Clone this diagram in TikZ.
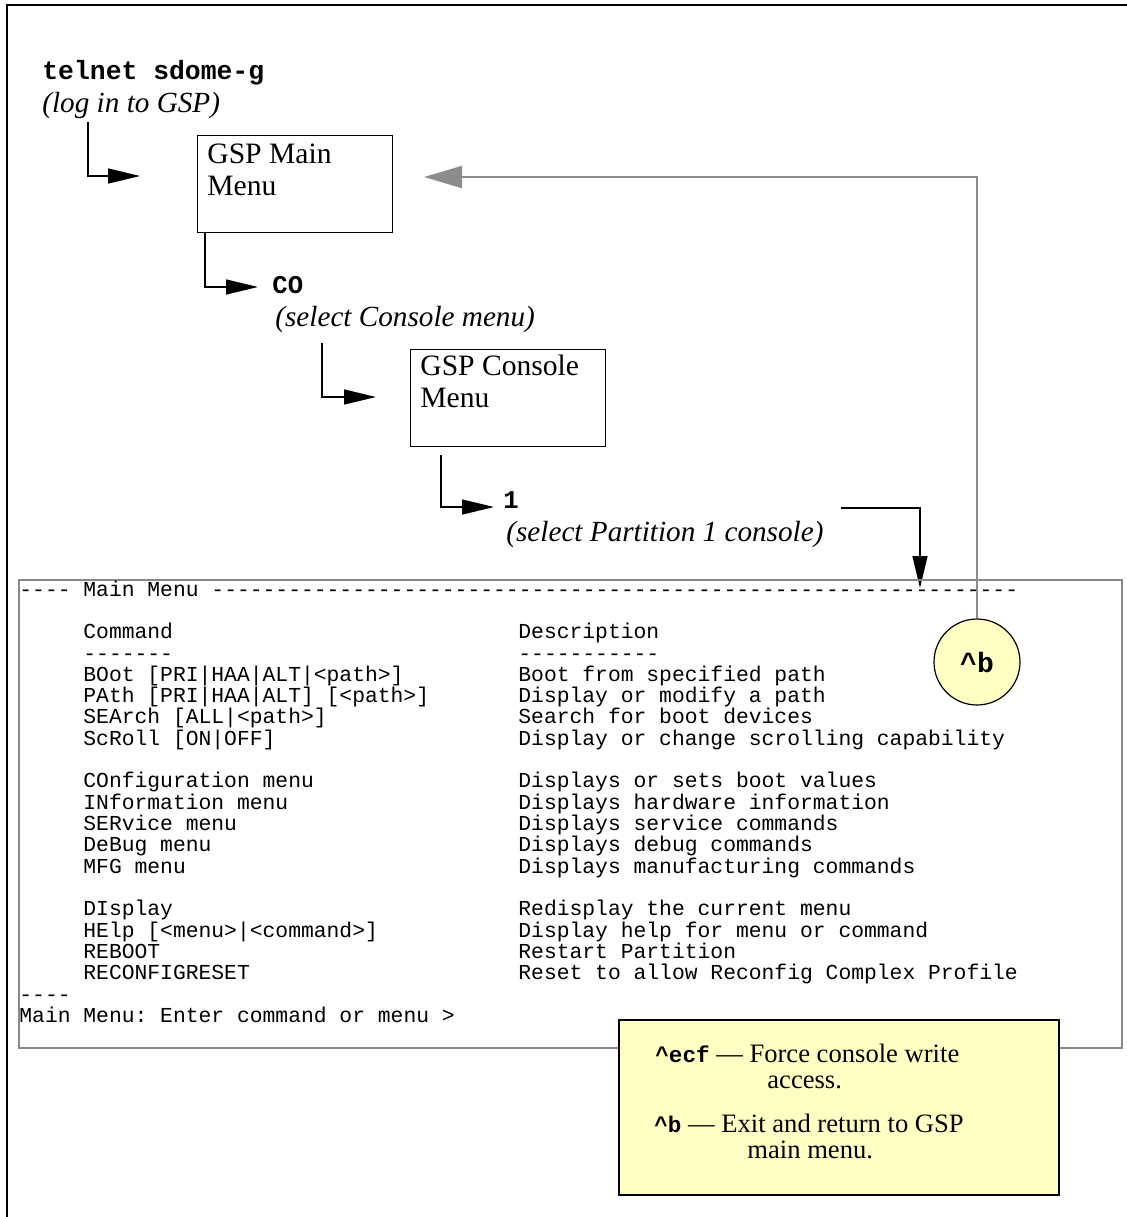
\documentclass[tikz,border=0pt]{standalone}
\usepackage{fontspec}
\setmainfont{Liberation Serif}
\setmonofont{Liberation Mono}
\usetikzlibrary{arrows.meta, positioning}
\definecolor{backgray}{HTML}{8C8C8C}
\definecolor{framegray}{HTML}{8A8A8A}
\definecolor{hintyellow}{HTML}{FFFFC4}
\newcommand{\keyfont}{\fontsize{11.3}{13}\selectfont\ttfamily\bfseries}

\begin{document}
\begin{tikzpicture}[x=0.5pt,y=-0.5pt]
\tikzset{menubox/.style = {draw, line width=0.6pt, anchor=north west, inner sep=0pt, minimum width=97.5pt, minimum height=48.5pt},
  boxtext/.style = {anchor=base west, inner sep=0pt, font=\fontsize{14.8}{16}\selectfont},
  cmd/.style = {anchor=base west, inner sep=0pt, font=\fontsize{12.8}{14}\selectfont\ttfamily\bfseries},
  note/.style = {anchor=base west, inner sep=0pt, font=\fontsize{14.6}{16}\selectfont\itshape},
  con/.style = {anchor=base west, inner sep=0pt, font=\fontsize{10.67}{10.67}\selectfont\ttfamily},
  hint/.style = {anchor=base west, inner sep=0pt, font=\fontsize{13.3}{14}\selectfont},
  flow/.style = {line width=0.75pt, -{Triangle[length=16pt,width=7.5pt]}},
  back/.style = {draw=backgray, line width=1pt, -{Triangle[length=19pt,width=11pt]}}}
\useasboundingbox (0,0) rectangle (1127,1217);
% frame
\draw[line width=1.3pt] (7,1217) -- (7,5) -- (1127,5);

% login
\node[cmd, font=\fontsize{13.2}{14}\selectfont\ttfamily\bfseries] (telnet) at (42,79) {telnet sdome-g};
\node[note] (login) at (42,112) {(log in to GSP)};

% menu boxes
\node[menubox] (mainbox) at (197,135) {};
\node[boxtext] (main1) at (207,163) {GSP Main};
\node[boxtext] (main2) at (207,195) {Menu};
\node[menubox] (consbox) at (410,349) {};
\node[boxtext] (cons1) at (420,375) {GSP Console};
\node[boxtext] (cons2) at (420,407) {Menu};

% commands
\node[cmd] (co) at (272,293) {CO};
\node[note] (selco) at (275,326) {(select Console menu)};
\node[cmd] (one) at (503,508) {1};
\node[note] (selone) at (506,541) {(select Partition 1 console)};

% flow arrows
\coordinate (s1) at (88,122);
\coordinate (t1) at (140,176);
\coordinate (s2) at (205,232);
\coordinate (t2) at (258,287);
\coordinate (s3) at (322,343);
\coordinate (t3) at (376,397);
\coordinate (s4) at (441,455);
\coordinate (t4) at (494,507);
\coordinate (s5) at (841,508);
\coordinate (t5) at (920,588);
\draw[flow] (s1) |- (t1);
\draw[flow] (s2) |- (t2);
\draw[flow] (s3) |- (t3);
\draw[flow] (s4) |- (t4);
\draw[flow] (s5) -| (t5);

% console screen
\draw[framegray, line width=1.2pt] (19,580) rectangle (1122,1048);
\node[con] (head) at (19,596) {---- Main Menu ---------------------------------------------------------------};
\foreach \row/\cmd/\desc in {2/Command/Description, 3/-------/-----------,
  4/{BOot [PRI|HAA|ALT|<path>]}/{Boot from specified path},
  5/{PAth [PRI|HAA|ALT] [<path>]}/{Display or modify a path},
  6/{SEArch [ALL|<path>]}/{Search for boot devices},
  7/{ScRoll [ON|OFF]}/{Display or change scrolling capability},
  9/{COnfiguration menu}/{Displays or sets boot values},
  10/{INformation menu}/{Displays hardware information},
  11/{SERvice menu}/{Displays service commands},
  12/{DeBug menu}/{Displays debug commands},
  13/{MFG menu}/{Displays manufacturing commands},
  15/{DIsplay}/{Redisplay the current menu},
  16/{HElp [<menu>|<command>]}/{Display help for menu or command},
  17/{REBOOT}/{Restart Partition},
  18/{RECONFIGRESET}/{Reset to allow Reconfig Complex Profile}}
{
  \node[con] (cmd\row) at (83,596+21.33*\row) {\cmd};
  \node[con] (desc\row) at (518,596+21.33*\row) {\desc};
}
\node[con] (foot) at (19,596+21.33*19) {----};
\node[con] (prompt) at (19,596+21.33*20) {Main Menu: Enter command or menu >};

% exit key
\node[circle, draw, fill=hintyellow, line width=0.6pt, minimum size=43pt, inner sep=0pt,
  font=\fontsize{14}{14}\selectfont\ttfamily\bfseries] (hb) at (977,662) {\textasciicircum b};
\coordinate (backend) at (424,177);
\draw[back] (hb) |- (backend);

% key hints
\draw[fill=hintyellow, line width=0.6pt] (619,1020) rectangle (1059,1195);
\node[hint] (ecf1) at (655,1062) {{\keyfont\textasciicircum ecf} — Force console write};
\node[hint] (ecf2) at (767,1088) {access.};
\node[hint] (b1) at (654,1132) {{\keyfont\textasciicircum b} — Exit and return to GSP};
\node[hint] (b2) at (747,1158) {main menu.};
\end{tikzpicture}
\end{document}
